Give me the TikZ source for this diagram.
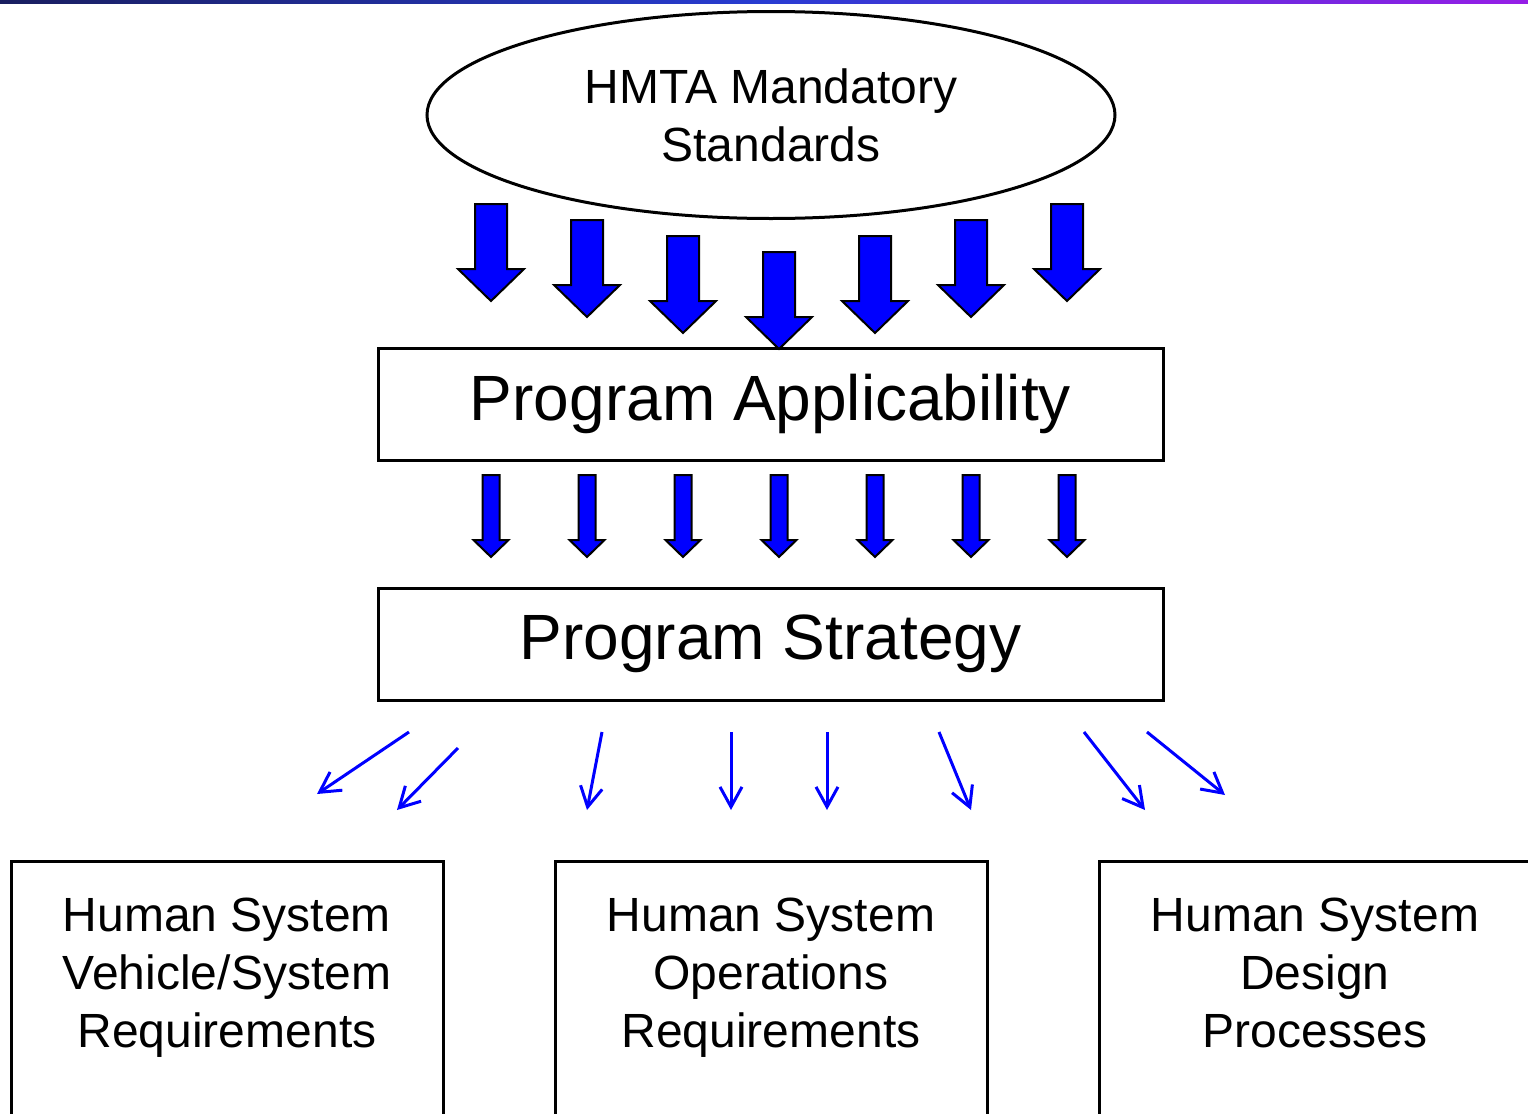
\documentclass[tikz,border=0pt]{standalone}
\usepackage{fontspec}
\setmainfont{Liberation Sans}
\usepackage{tikz}
\usetikzlibrary{shapes.geometric}
\usetikzlibrary{arrows.meta}

\definecolor{barleft}{RGB}{25,30,95}
\definecolor{barmid}{RGB}{40,60,210}
\definecolor{barright}{RGB}{150,30,230}

\begin{document}
\begin{tikzpicture}[x=0.5pt,y=-0.5pt]

        \tikzstyle{stage}=[draw,rectangle,line width=1.5pt,minimum width=392.5pt,minimum height=56pt,inner sep=0pt,font=\fontsize{32}{38}\selectfont]
        \tikzstyle{outbox}=[draw,rectangle,line width=1.5pt,anchor=north,minimum width=216pt,inner xsep=0pt,inner ysep=18pt,text depth=130pt,align=center,font=\fontsize{24}{29}\selectfont]
        \tikzstyle{fatarrow}=[draw=black,fill=blue,line width=1pt]
        \tikzstyle{thinarrow}=[draw=blue,line width=1.5pt,-{Straight Barb[length=10pt,width=11pt]}]

        \useasboundingbox (0,0) rectangle (1528,1114);
        \clip (0,0) rectangle (1528,1114);
        \shade[left color=barleft,right color=barright,middle color=barmid] (0,0) rectangle (1528,3);

        \node[draw,ellipse,line width=1.5pt,minimum width=344pt,minimum height=103.5pt,inner sep=0pt,align=center,font=\fontsize{24}{29}\selectfont] (hmta) at (771,115) {HMTA Mandatory\\Standards};

        \node[stage] (applic) at (770.5,404) {Program Applicability};
        \node[stage] (strat) at (770.5,644) {Program Strategy};

        \node[outbox] (vehreq) at (227,860) {Human System\\Vehicle/System\\Requirements};
        \node[outbox] (opsreq) at (771,860) {Human System\\Operations\\Requirements};
        \node[outbox] (desproc) at (1315,860) {Human System\\Design\\Processes};

        % big arrows under the ellipse
        \foreach \i / \t in {0/204,1/220,2/236,3/252,4/236,5/220,6/204} {
            \draw[fatarrow] (491+96*\i-16,\t) -- ++(32,0) -- ++(0,65) -- ++(17,0) -- (491+96*\i,\t+97) -- ++(-33,-32) -- ++(17,0) -- cycle;
        }

        % small arrows between the two boxes
        \foreach \i in {0,...,6} {
            \draw[fatarrow] (491+96*\i-8.5,475) -- ++(17,0) -- ++(0,65) -- ++(9,0) -- (491+96*\i,557) -- ++(-17.5,-17) -- ++(9,0) -- cycle;
        }

        \foreach \n / \a / \b / \c / \d in {1/409/732/317/794,2/458/748/397/810,3/602/732/587/810,4/731/732/731/810,5/827/732/827/810,6/939/732/971/810,7/1084/732/1145/810,8/1147/732/1225/795} {
            \coordinate (from\n) at (\a,\b);
            \coordinate (to\n) at (\c,\d);
            \draw[thinarrow] (from\n) -- (to\n);
        }

\end{tikzpicture}
\end{document}
